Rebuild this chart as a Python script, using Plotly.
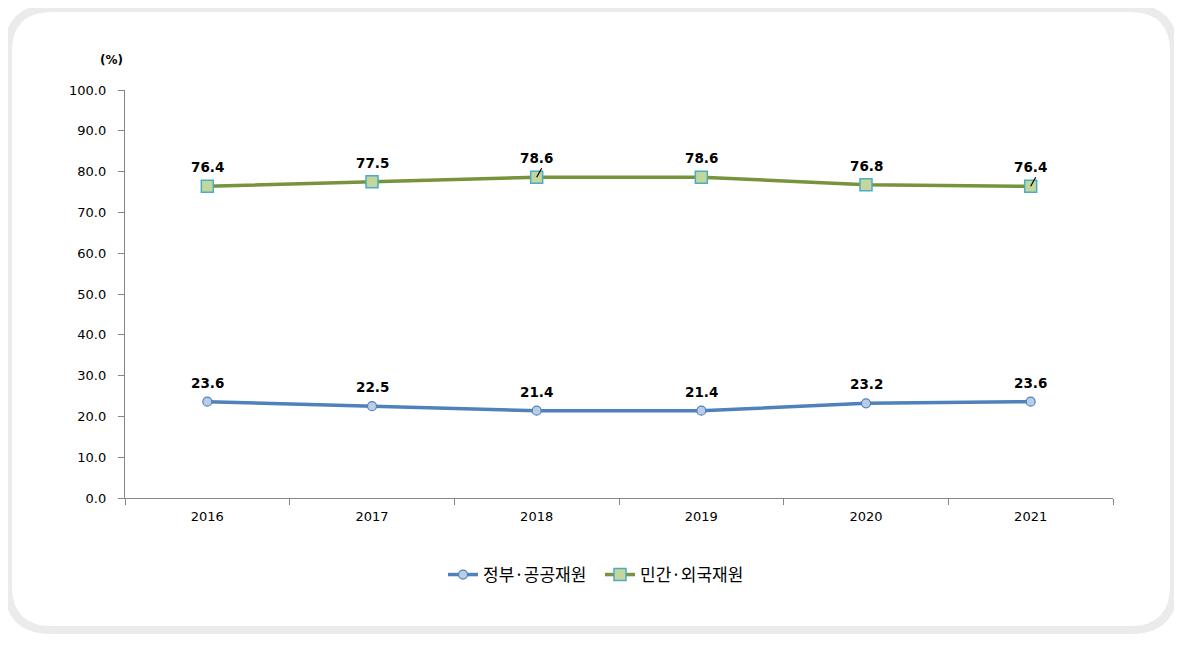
import plotly.graph_objects as go

years = ["2016", "2017", "2018", "2019", "2020", "2021"]
gov_public = [23.6, 22.5, 21.4, 21.4, 23.2, 23.6]
private_foreign = [76.4, 77.5, 78.6, 78.6, 76.8, 76.4]
series_names = ["정부·공공재원", "민간·외국재원"]
leader_years = ["2018", "2021"]

OFF = 8  # browser body margin
W, H = 1182 - 2 * OFF, 647 - 2 * OFF
# plot area in reference pixels
RL, RR, RT, RB = 125, 1113, 90, 498
L, R, T, B = RL - OFF, RR - OFF, RT - OFF, RB - OFF

def px(xr):  # reference pixel -> paper x
    return (xr - RL) / (RR - RL)
def py(yr):  # reference pixel -> paper y
    return (RB - yr) / (RB - RT)

idx = list(range(len(years)))

fig = go.Figure()
fig.add_trace(go.Scatter(
    x=idx, y=gov_public, name=series_names[0], mode="lines+markers",
    line=dict(color="#4F81BD", width=3.5),
    marker=dict(symbol="circle", size=9, color="#B9CDE5", line=dict(color="#4F81BD", width=1.2)),
))
fig.add_trace(go.Scatter(
    x=idx, y=private_foreign, name=series_names[1], mode="lines+markers",
    line=dict(color="#77933C", width=3.5),
    marker=dict(symbol="square", size=12, color="#C3D69B", line=dict(color="#4BACC6", width=1.5)),
))

label_font = dict(family="DejaVu Sans", size=13.5, color="#000000")
for series in (gov_public, private_foreign):
    for i, v in zip(idx, series):
        fig.add_annotation(x=i, y=v, xref="x", yref="y", text=f"<b>{v:.1f}</b>",
                           showarrow=False, yshift=19, font=label_font,
                           xanchor="center", yanchor="middle")

for yr in leader_years:
    i = years.index(yr)
    v = private_foreign[i]
    fig.add_shape(type="line", xref="x", yref="y", xsizemode="pixel", ysizemode="pixel",
                  xanchor=i, yanchor=v, x0=0, x1=5, y0=0, y1=9,
                  line=dict(color="#000000", width=1.2))

# unit label
fig.add_annotation(xref="paper", yref="paper", x=px(111), y=py(60), xanchor="center", yanchor="middle",
                   text="<b>(%)</b>", showarrow=False, font=dict(family="DejaVu Sans", size=12, color="#000"))

# rounded frame (figure-pixel coords converted to paper)
def fx(xf):
    return (xf - L) / (R - L)
def fy(yf):
    return (B - yf) / (B - T)
x0, y0, x1, y1, r = 0, 0, W, 622, 44
path = (f"M{fx(x0+r)},{fy(y0)} L{fx(x1-r)},{fy(y0)} Q{fx(x1)},{fy(y0)} {fx(x1)},{fy(y0+r)} "
        f"L{fx(x1)},{fy(y1-r)} Q{fx(x1)},{fy(y1)} {fx(x1-r)},{fy(y1)} "
        f"L{fx(x0+r)},{fy(y1)} Q{fx(x0)},{fy(y1)} {fx(x0)},{fy(y1-r)} "
        f"L{fx(x0)},{fy(y0+r)} Q{fx(x0)},{fy(y0)} {fx(x0+r)},{fy(y0)} Z")
fig.add_shape(type="path", xref="paper", yref="paper", path=path,
              line=dict(color="#EBEBEB", width=8), layer="below")

axis_font = dict(family="DejaVu Sans", size=13, color="#000000")
fig.update_layout(
    width=W, height=H,
    margin=dict(l=L, r=W - R, t=T, b=H - B, pad=0),
    paper_bgcolor="white", plot_bgcolor="white",
    showlegend=True,
    legend=dict(orientation="h", x=px(600), xanchor="center",
                y=py(575), yanchor="middle", itemwidth=30,
                entrywidth=112, entrywidthmode="pixels",
                font=dict(family="Noto Sans CJK KR", size=17, color="#000")),
    xaxis=dict(tickmode="array", tickvals=idx, ticktext=years, range=[-0.5, len(years) - 0.5],
               ticks="", showline=True, linecolor="#868686", linewidth=1.3,
               showgrid=False, tickfont=axis_font, zeroline=False, ticklabelstandoff=6,
               minor=dict(tickmode="array", tickvals=[i - 0.5 for i in idx] + [len(years) - 0.5],
                          ticks="outside", ticklen=6, tickcolor="#868686", showgrid=False)),
    yaxis=dict(range=[0, 100], dtick=10, tickformat=".1f", ticks="outside", ticklen=6,
               tickcolor="#868686", showline=True, linecolor="#868686", linewidth=1.3,
               showgrid=False, zeroline=False, tickfont=axis_font, ticklabelstandoff=9),
)

fig.write_html("out.html")
